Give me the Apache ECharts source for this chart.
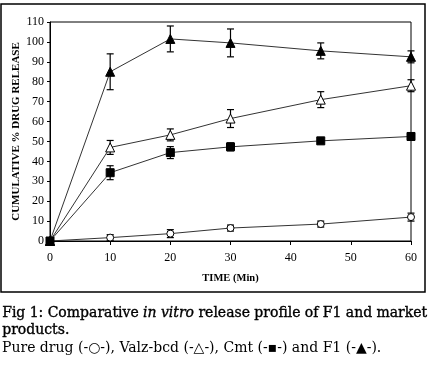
<!DOCTYPE html>
<html><head><meta charset="utf-8">
<script src="https://cdn.jsdelivr.net/npm/echarts@6/dist/echarts.min.js"></script>
<style>html,body{margin:0;padding:0;background:#fff}#c{width:429px;height:367px}</style>
</head><body><div id="c"></div>
<script>
var time = [0, 10, 20, 30, 45, 60];
var xTicks = [0, 10, 20, 30, 40, 50, 60];
var yTicks = [0, 10, 20, 30, 40, 50, 60, 70, 80, 90, 100, 110];
var pureDrug = [0, 1.7, 3.7, 6.5, 8.5, 12];
var pureDrugErr = [0, 1.5, 2, 1.5, 1.5, 2];
var valz = [0, 47, 53.3, 61.5, 71, 78];
var valzErr = [0, 3.5, 3, 4.5, 4, 3];
var cmt = [0, 34.3, 44.4, 47.3, 50.3, 52.5];
var cmtErr = [0, 3.5, 3, 2, 1, 1.8];
var f1 = [0, 85, 101.5, 99.5, 95.5, 92.5];
var f1Err = [0, 9, 6.5, 7, 4, 3];

var chart = echarts.init(document.getElementById('c'), null, {renderer: 'canvas'});
var serif = 'Liberation Serif';
var capFont = 'DejaVu Serif';

function pairs(v) { return time.map(function (t, i) { return [t, v[i]]; }); }
function errData(v, e) { return time.map(function (t, i) { return [t, v[i], e[i]]; }).filter(function (d) { return d[2] > 0; }); }

function errSeries(v, e) {
  return {
    type: 'custom', z: 5,
    data: errData(v, e),
    renderItem: function (params, api) {
      var x = api.value(0), y = api.value(1), er = api.value(2);
      var top = api.coord([x, y + er]);
      var bot = api.coord([x, y - er]);
      var w = 3.5;
      var st = {stroke: '#000', lineWidth: 1.2};
      return {type: 'group', children: [
        {type: 'line', shape: {x1: top[0], y1: top[1], x2: bot[0], y2: bot[1]}, style: st},
        {type: 'line', shape: {x1: top[0] - w, y1: top[1], x2: top[0] + w, y2: top[1]}, style: st},
        {type: 'line', shape: {x1: bot[0] - w, y1: bot[1], x2: bot[0] + w, y2: bot[1]}, style: st}
      ]};
    }
  };
}

function lineSeries(name, v, symbol, size, fill) {
  return {
    name: name, type: 'line', data: pairs(v), z: 6,
    symbol: symbol, symbolSize: size, showSymbol: true,
    lineStyle: {color: '#333', width: 1},
    itemStyle: {color: fill, borderColor: '#000', borderWidth: 1},
    emphasis: {disabled: true}
  };
}

var line1 = ['Fig', '1:', 'Comparative', '*in', '*vitro', 'release', 'profile', 'of', 'F1', 'and', 'market'];

var graphics = [
  {type: 'rect', shape: {x: 1, y: 4, width: 424, height: 288}, style: {fill: 'none', stroke: '#000', lineWidth: 1.5}, silent: true}
];

var option = {
  animation: false,
  grid: {left: 50, top: 22, right: 18, bottom: 126, show: true, borderColor: '#000', borderWidth: 1,
    containLabel: false, outerBoundsMode: 'none'},
  xAxis: {
    type: 'value', min: 0, max: 60, interval: 10,
    axisLine: {lineStyle: {color: '#000', width: 1}},
    axisTick: {show: true, length: 4, lineStyle: {color: '#000'}},
    splitLine: {show: false},
    axisLabel: {color: '#000', fontFamily: serif, fontSize: 12, margin: 11,
      formatter: function (v) { return xTicks.indexOf(v) >= 0 ? String(v) : ''; }},
    name: 'TIME (Min)', nameLocation: 'middle', nameGap: 32, nameMoveOverlap: false,
    nameTextStyle: {color: '#000', fontFamily: serif, fontWeight: 'bold', fontSize: 10.5}
  },
  yAxis: {
    type: 'value', min: 0, max: 110, interval: 10,
    axisLine: {show: true, lineStyle: {color: '#000', width: 1}},
    axisTick: {show: true, length: 3, lineStyle: {color: '#000'}},
    splitLine: {show: false},
    axisLabel: {color: '#000', fontFamily: serif, fontSize: 12, margin: 6,
      formatter: function (v) { return yTicks.indexOf(v) >= 0 ? String(v) : ''; }},
    name: 'CUMULATIVE % DRUG RELEASE', nameLocation: 'middle', nameGap: 34, nameRotate: 90, nameMoveOverlap: false,
    nameTextStyle: {color: '#000', fontFamily: serif, fontWeight: 'bold', fontSize: 11, verticalAlign: 'middle'}
  },
  graphic: graphics,
  series: [
    lineSeries('Pure drug', pureDrug, 'circle', 7, '#fff'),
    lineSeries('Valz-bcd', valz, 'triangle', 9, '#fff'),
    lineSeries('Cmt', cmt, 'rect', 8, '#000'),
    lineSeries('F1', f1, 'triangle', 9, '#000'),
    errSeries(pureDrug, pureDrugErr),
    errSeries(valz, valzErr),
    errSeries(cmt, cmtErr),
    errSeries(f1, f1Err)
  ]
};
chart.setOption(option);

// Justified first caption line: measure words and spread them across the width
var ctx = document.createElement('canvas').getContext('2d');
var widths = line1.map(function (w) {
  var it = w.charAt(0) === '*';
  ctx.font = (it ? 'italic ' : '') + '14px "' + capFont + '"';
  return ctx.measureText(it ? w.slice(1) : w).width;
});
var total = widths.reduce(function (a, b) { return a + b; }, 0);
var x0 = 2, x1 = 427;
var gap = (x1 - x0 - total) / (line1.length - 1);
var xs = x0;
var capStroke = {stroke: '#000', lineWidth: 0.35};
line1.forEach(function (w, i) {
  var it = w.charAt(0) === '*';
  graphics.push({type: 'text', left: xs, top: 306, silent: true,
    style: Object.assign({text: it ? w.slice(1) : w, fontFamily: capFont, fontSize: 14, fontStyle: it ? 'italic' : 'normal', fill: '#000'}, capStroke)});
  xs += widths[i] + gap;
});
graphics.push({type: 'text', left: 2, top: 323, silent: true,
  style: Object.assign({text: 'products.', fontFamily: capFont, fontSize: 14, fill: '#000'}, capStroke)});
graphics.push({type: 'text', left: 2, top: 341, silent: true,
  style: {text: 'Pure drug (-\u25CB-), Valz-bcd (-\u25B3-), Cmt (-\u25AA-) and F1 (-\u25B2-).', fontFamily: capFont, fontSize: 14, fill: '#000'}});
chart.setOption({graphic: graphics});
</script></body></html>
